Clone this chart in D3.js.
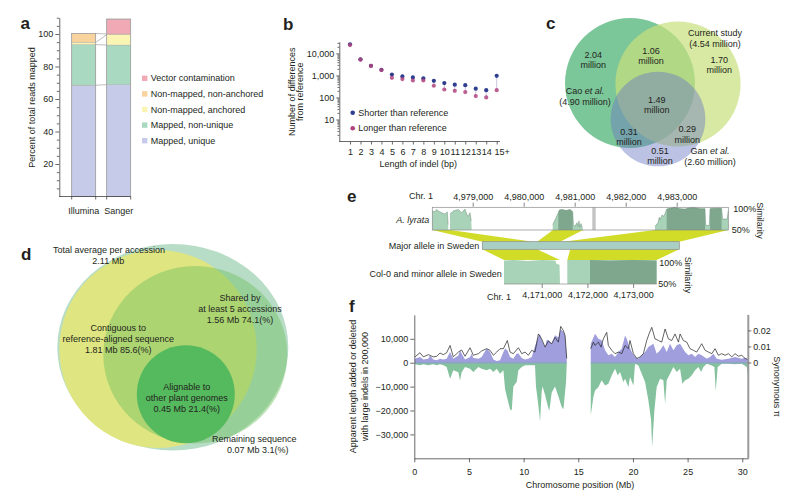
<!DOCTYPE html>
<html><head><meta charset="utf-8">
<script src="https://cdn.jsdelivr.net/npm/d3@7"></script>
<style>
body{margin:0;background:#fff;}
svg{display:block;font-family:"Liberation Sans",Arial,Helvetica,sans-serif;}
text{fill:#231f20;}
</style></head><body>
<svg id="chart" width="800" height="499"></svg>
<script>
// ================= DATA =================
// Panel a
const aCategories = ["Illumina", "Sanger"];
const aSeriesNames = ["Mapped, unique", "Mapped, non-unique", "Non-mapped, anchored", "Non-mapped, non-anchored", "Vector contamination"];
const aIllumina = [68.5, 25.0, 1.3, 5.5, 0];
const aSanger = [68.8, 24.4, 6.4, 0.4, 9.2];
const aYTicks = [20, 40, 60, 80, 100];
const aColors = ["#c7cbea", "#a9d9c0", "#fbf5b4", "#f8d39d", "#f1a9b6"];

// Panel b
const bLengths = ["1","2","3","4","5","6","7","8","9","10","11","12","13","14","15+"];
const bShorter = [26000, 5400, 2750, 1800, 1100, 900, 810, 730, 570, 450, 380, 360, 250, 215, 960];
const bLonger  = [24000, 5200, 2700, 1750, 780, 680, 590, 590, 340, 230, 200, 175, 115, 100, 215];
const bYTicks = [10, 100, 1000, 10000];
const bSeriesNames = ["Shorter than reference", "Longer than reference"];

// Panel c
const cSetNames = ["Cao", "Current study", "Gan"];
const cSetTotals = [4.90, 4.54, 2.60];
const cRegionValues = [2.04, 1.06, 1.70, 1.49, 0.31, 0.29, 0.51]; // Cao only, Cao∩Cur, Cur only, all, Cao∩Gan, Cur∩Gan, Gan only

// Panel d
const dNames = ["Total average per accession", "Contiguous to reference-aligned sequence", "Shared by at least 5 accessions", "Alignable to other plant genomes", "Remaining sequence"];
const dMb = [2.11, 1.81, 1.56, 0.45, 0.07];
const dPct = [100, 85.6, 74.1, 21.4, 3.1];

// Panel e
const eTopTicks = [4979000, 4980000, 4981000, 4982000, 4983000];
const eBottomTicks = [4171000, 4172000, 4173000];
const eLyrataProfile = [
  [[4978208,50],[4978208,92],[4978250,90],[4978294,95],[4978340,91],[4978392,88],[4978457,85],[4978502,90],[4978518,62],[4978525,50]],
  [[4978555,50],[4978555,85],[4978620,92],[4978718,95],[4978784,88],[4978849,96],[4978882,85],[4978914,80],[4978947,88],[4978972,70],[4978980,50]],
  [[4980569,50],[4980569,62],[4980614,72],[4980679,88],[4980700,94],[4980752,95],[4980830,93],[4980909,95],[4980961,90],[4980975,62],[4981006,58],[4981045,66],[4981060,58],[4981085,70],[4981100,56],[4981124,64],[4981150,55],[4981169,50]],
  [[4982575,50],[4982575,58],[4982634,66],[4982660,78],[4982673,72],[4982712,83],[4982751,80],[4982804,96],[4982966,100],[4983060,97],[4983162,96],[4983260,99],[4983358,99],[4983456,97],[4983554,97],[4983570,60],[4983640,60],[4983655,97],[4983760,98],[4983880,98],[4983900,74],[4983990,74],[4984012,92],[4984012,50]]
];
const eLyrataDark = [[4980679, 4980961], [4982804, 4983556], [4983655, 4983880]];
const eLyrataGap = [4981345, 4981412];
const eCol0Profile = [
  [[4170175,50],[4170175,99],[4170400,100],[4170700,98],[4171000,100],[4171300,99],[4171320,92],[4171390,90],[4171400,50]],
  [[4171560,50],[4171560,100],[4172057,100],[4172500,99],[4173000,100],[4173516,99],[4173516,50]]
];
const eCol0Dark = [[4172057, 4173516]];
const eMajorLengthKb = 4.1;
const eBandsUpper = [ // lyrata start, lyrata end, major start (kb), major end (kb)
  [4978208, 4978560, 0, 1.06],
  [4980575, 4981165, 1.14, 1.62],
  [4982575, 4984012, 1.68, 4.1]
];
const eBandsLower = [ // major start (kb), major end (kb), Col-0 start, Col-0 end
  [0, 1.14, 4170175, 4171400],
  [1.83, 4.1, 4171560, 4173516]
];

// Panel f  ([Mb, value])
const fXTicks = [0, 5, 10, 15, 20, 25, 30];
const fYTicks = [-30000, -20000, -10000, 0, 10000];
const fPiTicks = [0, 0.01, 0.02];
const fAddedLeft = [[0.06,1700],[0.52,2400],[0.83,1300],[1.28,1700],[1.44,3000],[1.74,1300],[2.05,1000],[2.35,1700],[2.66,1300],[2.96,1700],[3.27,4500],[3.57,1700],[4.03,3000],[4.18,5200],[4.33,3800],[4.64,1300],[5.10,2400],[5.25,3800],[5.40,2000],[5.86,1700],[6.16,2400],[6.62,5900],[6.93,4500],[7.23,1300],[7.54,700],[7.84,1000],[8.15,4500],[8.30,5900],[8.51,5200],[8.76,2400],[9.06,1700],[9.37,3800],[9.52,3800],[9.83,2000],[10.13,1300],[10.43,1700],[10.74,2400],[11.04,7000],[11.35,11000],[11.50,12000],[11.65,9500],[11.96,6500],[12.11,9500],[12.26,9500],[12.57,8000],[12.87,11500],[13.18,10500],[13.39,14000],[13.64,13000],[13.79,11500],[13.94,2500]];
const fDeletedLeft = [[0.06,-700],[0.52,-1100],[0.83,-700],[1.28,-1100],[1.74,-700],[2.05,-1100],[2.35,-700],[2.66,-1100],[2.96,-1800],[3.27,-6700],[3.57,-3200],[4.03,-4000],[4.18,-7400],[4.33,-4000],[4.64,-1800],[5.10,-2500],[5.40,-3900],[5.86,-1800],[6.16,-2500],[6.62,-3200],[6.93,-2500],[7.23,-3900],[7.54,-2500],[7.84,-4600],[8.15,-3200],[8.30,-11000],[8.51,-15000],[8.76,-19500],[8.91,-20000],[9.06,-10000],[9.37,-8000],[9.52,-3200],[9.83,-1800],[10.13,-1100],[10.43,-1100],[10.74,-1100],[11.04,-1100],[11.13,-10000],[11.35,-18000],[11.50,-24500],[11.65,-12000],[11.74,-10000],[11.96,-13500],[12.26,-19000],[12.35,-20000],[12.57,-12500],[12.87,-10000],[13.18,-14000],[13.48,-18500],[13.64,-19500],[13.88,-8000],[13.94,-1000]];
const fPiLeft = [[0.06,.0035],[0.52,.0061],[0.83,.0035],[1.28,.0049],[1.74,.0035],[2.05,.0039],[2.35,.0059],[2.66,.0049],[2.96,.0061],[3.27,.0106],[3.57,.0035],[4.03,.0065],[4.33,.0078],[4.64,.0039],[5.10,.0092],[5.40,.0045],[5.86,.0055],[6.16,.0072],[6.62,.0086],[6.93,.0076],[7.23,.0045],[7.54,.0065],[7.84,.0086],[8.15,.0086],[8.51,.0137],[8.76,.0065],[9.06,.0055],[9.52,.0092],[9.83,.0055],[10.13,.0065],[10.43,.0045],[10.74,.0076],[11.04,.0065],[11.35,.0178],[11.65,.0147],[11.96,.0096],[12.26,.0133],[12.57,.0117],[12.87,.0157],[13.18,.0127],[13.39,.0225],[13.64,.0198],[13.79,.0168],[13.94,.0025]];
const fAddedRight = [[16.14,7950],[16.53,12100],[16.84,10000],[17.14,9350],[17.45,5160],[17.75,3070],[18.06,3770],[18.36,2370],[18.67,4460],[18.97,5860],[19.28,11400],[19.43,10000],[19.58,7950],[19.89,4460],[20.19,2370],[20.50,1670],[20.80,3070],[21.11,4460],[21.41,6560],[21.87,7950],[22.17,3770],[22.48,5160],[22.78,7250],[23.09,4460],[23.39,7950],[23.70,5160],[24.00,7250],[24.31,7950],[24.77,4460],[25.07,3070],[25.38,3770],[25.68,2370],[25.99,3770],[26.29,3070],[26.75,1670],[27.05,2370],[27.36,3770],[27.66,1670],[28.12,1260],[28.73,1670],[29.34,2370],[29.95,1670],[30.26,2100],[30.56,980]];
const fDeletedRight = [[16.14,-22000],[16.38,-14370],[16.53,-11580],[16.84,-10180],[17.14,-7390],[17.45,-9490],[17.75,-8790],[18.06,-5300],[18.36,-2510],[18.61,-5300],[18.82,-3900],[19.12,-8090],[19.28,-6700],[19.58,-10180],[19.73,-6000],[20.04,-9490],[20.19,-420],[20.50,-1120],[20.80,-4600],[21.11,-8090],[21.41,-15760],[21.66,-24130],[21.75,-35500],[21.96,-19950],[22.17,-10180],[22.48,-6700],[22.78,-7390],[22.94,-17160],[23.09,-7390],[23.39,-4600],[23.70,-1810],[24.00,-3900],[24.31,-2510],[24.52,-8790],[24.77,-7390],[25.07,-6700],[25.38,-5300],[25.68,-3210],[25.99,-1810],[26.23,-3900],[26.44,-1810],[26.75,-420],[27.21,-1120],[27.45,-1810],[27.57,-11900],[27.75,-1810],[28.12,-420],[28.73,-420],[29.34,-700],[29.95,-420],[30.41,-1810],[30.56,-6700]];
const fPiRight = [[16.14,.0086],[16.38,.0127],[16.53,.0106],[16.84,.0127],[17.08,.0096],[17.29,.0147],[17.60,.0188],[17.75,.0106],[18.06,.0076],[18.36,.0055],[18.67,.0065],[18.97,.0055],[19.28,.0106],[19.58,.0086],[19.73,.0137],[20.04,.0055],[20.35,.0025],[20.65,.0035],[20.95,.0055],[21.26,.0137],[21.47,.0178],[21.72,.0219],[22.02,.0147],[22.33,.0137],[22.63,.0127],[22.94,.0209],[23.24,.0147],[23.55,.0137],[23.85,.0178],[24.16,.0127],[24.31,.0178],[24.61,.0137],[24.92,.0127],[25.22,.0086],[25.53,.0076],[25.83,.0065],[26.29,.0117],[26.60,.0076],[26.90,.0065],[27.21,.0055],[27.51,.0086],[27.81,.0045],[28.12,.0055],[28.43,.0045],[28.73,.0055],[29.04,.0035],[29.34,.0055],[29.65,.0039],[29.95,.0045],[30.26,.0025],[30.56,.0018]];

// ================= DRAWING =================
const svg = d3.select("#chart");
svg.append("rect").attr("width", 800).attr("height", 499).attr("fill", "#fff");
const INK = "#231f20";

function text(g, x, y, s, anchor = "middle", size = 9) {
  return g.append("text").attr("x", x).attr("y", y).attr("dy", "0.35em")
    .attr("text-anchor", anchor).attr("font-size", size).text(s);
}
function rotText(g, x, y, s, angle, size = 9) {
  return g.append("text").attr("transform", `translate(${x},${y}) rotate(${angle})`)
    .attr("dy", "0.35em").attr("text-anchor", "middle").attr("font-size", size).text(s);
}
function styleAxis(g, col = "#444") {
  g.attr("font-family", null).attr("font-size", 9);
  g.selectAll("text").attr("fill", INK);
  g.selectAll("line,path").attr("stroke", col).attr("stroke-width", 0.8);
}
function panelLabel(x, y, s) {
  svg.append("text").attr("x", x).attr("y", y).attr("font-size", 17).attr("font-weight", "bold").text(s);
}
panelLabel(20.5, 28.5, "a");
panelLabel(283, 29.5, "b");
panelLabel(546, 28.5, "c");
panelLabel(21, 259.5, "d");
panelLabel(347, 201.5, "e");
panelLabel(349, 311.5, "f");

// ---------- Panel a ----------
{
  const g = svg.append("g");
  const ay = d3.scaleLinear().domain([0, 110]).range([196.5, 17.75]);
  const ax = d3.scaleBand().domain(aCategories).range([71.7, 130.7]).paddingInner(0.314);
  const table = aCategories.map((c, i) => {
    const vals = [aIllumina, aSanger][i]; const r = { cat: c };
    aSeriesNames.forEach((s, j) => r[s] = vals[j]); return r;
  });
  const stacked = d3.stack().keys(aSeriesNames)(table);
  stacked.forEach((layer, k) => layer.forEach(d => {
    if (d[1] - d[0] <= 0) return;
    g.append("rect").attr("x", ax(d.data.cat)).attr("width", ax.bandwidth())
      .attr("y", ay(d[1])).attr("height", ay(d[0]) - ay(d[1]))
      .attr("fill", aColors[k]).attr("stroke", "#ababab").attr("stroke-width", 0.4);
  }));
  table.forEach(r => {
    const tot = d3.sum(aSeriesNames, s => r[s]);
    g.append("rect").attr("x", ax(r.cat)).attr("width", ax.bandwidth()).attr("y", ay(tot))
      .attr("height", ay(0) - ay(tot)).attr("fill", "none").attr("stroke", "#9b9b9b").attr("stroke-width", 0.7);
  });
  stacked.forEach(layer => {
    if (layer[0][1] - layer[0][0] <= 0 || layer[1][1] - layer[1][0] <= 0) return;
    g.append("line").attr("x1", ax(aCategories[0]) + ax.bandwidth()).attr("x2", ax(aCategories[1]))
      .attr("y1", ay(layer[0][1])).attr("y2", ay(layer[1][1])).attr("stroke", "#a0a0a0").attr("stroke-width", 0.7);
  });
  const yAx = g.append("g").attr("transform", "translate(59.3,0)")
    .call(d3.axisLeft(ay).tickValues(aYTicks).tickSize(4).tickSizeOuter(0).tickPadding(2));
  styleAxis(yAx);
  const yMinor = g.append("g").attr("transform", "translate(59.3,0)")
    .call(d3.axisLeft(ay).tickValues(d3.range(5, 111, 5).filter(v => !aYTicks.includes(v))).tickSize(2.5).tickFormat(""));
  yMinor.select(".domain").remove(); styleAxis(yMinor);
  g.append("line").attr("x1", 59.3).attr("x2", ax(aCategories[1]) + ax.bandwidth()).attr("y1", ay(0)).attr("y2", ay(0)).attr("stroke", "#444").attr("stroke-width", 0.8);
  aCategories.forEach(c => {
    [ax(c), ax(c) + ax.bandwidth()].forEach(x => g.append("line").attr("x1", x).attr("x2", x).attr("y1", ay(0)).attr("y2", ay(0) + 3).attr("stroke", "#444").attr("stroke-width", 0.8));
    text(g, ax(c) + ax.bandwidth() / 2, 211, c);
  });
  rotText(g, 31.7, 107.5, "Percent of total reads mapped", -90);
  aSeriesNames.slice().reverse().forEach((s, i) => {
    const k = aSeriesNames.length - 1 - i, y = 78.3 + i * 15.6;
    g.append("rect").attr("x", 142).attr("y", y - 2.7).attr("width", 5.4).attr("height", 5.4).attr("fill", aColors[k]);
    text(g, 150.7, y, s, "start");
  });
}

// ---------- Panel b ----------
{
  const g = svg.append("g");
  const bx = d3.scalePoint().domain(bLengths).range([350, 496.7]);
  const by = d3.scaleLog().domain([1, 34000]).range([141.5, 41.7]);
  const yAx = g.append("g").attr("transform", "translate(339.3,0)")
    .call(d3.axisLeft(by).tickValues(bYTicks).tickFormat(d3.format(",")).tickSize(3).tickSizeOuter(0).tickPadding(2));
  styleAxis(yAx);
  const minor = [];
  [1, 10, 100, 1000, 10000].forEach(p => d3.range(2, 10).forEach(m => { if (p * m < 34000) minor.push(p * m); }));
  const yMin = g.append("g").attr("transform", "translate(339.3,0)")
    .call(d3.axisLeft(by).tickValues(minor).tickSize(1.8).tickFormat(""));
  yMin.select(".domain").remove(); styleAxis(yMin);
  const xAx = g.append("g").attr("transform", "translate(0,141.5)")
    .call(d3.axisBottom(bx).tickSize(3).tickPadding(4));
  xAx.select(".domain").remove(); styleAxis(xAx);
  xAx.selectAll(".tick text").filter(d => d === "15+").attr("dx", 5);
  g.append("line").attr("x1", 339.3).attr("x2", 500).attr("y1", 141.5).attr("y2", 141.5).attr("stroke", "#444").attr("stroke-width", 0.8);
  bLengths.forEach((l, i) => {
    g.append("line").attr("x1", bx(l)).attr("x2", bx(l)).attr("y1", by(bShorter[i])).attr("y2", by(bLonger[i]))
      .attr("stroke", "#9a8fb8").attr("stroke-width", 0.5);
  });
  g.selectAll(".ps").data(bLengths).enter().append("circle").attr("cx", d => bx(d)).attr("cy", (d, i) => by(bShorter[i])).attr("r", 2.1).attr("fill", "#2f3e8f");
  g.selectAll(".pl").data(bLengths).enter().append("circle").attr("cx", d => bx(d)).attr("cy", (d, i) => by(bLonger[i])).attr("r", 2.1).attr("fill", "#b1447f").attr("fill-opacity", 0.85);
  rotText(g, 291.7, 91.7, "Number of differences", -90);
  rotText(g, 300, 91.7, "from reference", -90);
  text(g, 418.3, 164, "Length of indel (bp)");
  [["#2f3e8f", 112.7], ["#b1447f", 128.3]].forEach((c, i) => {
    g.append("circle").attr("cx", 352.7).attr("cy", c[1]).attr("r", 2.3).attr("fill", c[0]);
    text(g, 358.3, c[1], bSeriesNames[i], "start");
  });
}

// ---------- Panel c ----------
{
  const g = svg.append("g");
  const rScale = d3.scaleSqrt().domain([0, 4.90]).range([0, 65]);
  const centers = [[630, 83], [678, 84], [658, 119]];
  const fills = [["#7cc79a", 1], ["#c8e07c", 0.7], ["#6a78c0", 0.45]];
  cSetTotals.forEach((t, i) => g.append("circle").attr("cx", centers[i][0]).attr("cy", centers[i][1])
    .attr("r", rScale(t)).attr("fill", fills[i][0]).attr("fill-opacity", fills[i][1]));
  const regPos = [[593.3, 55], [651, 50.7], [719.3, 60], [656.7, 100], [629, 131.7], [687.3, 129.3], [660, 150.7]];
  cRegionValues.forEach((v, i) => {
    text(g, regPos[i][0], regPos[i][1], v.toFixed(2));
    text(g, regPos[i][0], regPos[i][1] + 10.3, "million");
  });
  const lab = (x, y, name, total, ital) => {
    const t = text(g, x, y, "");
    if (ital) { t.append("tspan").text(name + " "); t.append("tspan").attr("font-style", "italic").text("et al."); }
    else t.text(name);
    text(g, x, y + 11, "(" + total.toFixed(2) + " million)");
  };
  lab(585, 90.7, cSetNames[0], cSetTotals[0], true);
  lab(715, 33.3, cSetNames[1], cSetTotals[1], false);
  lab(710, 150.7, cSetNames[2], cSetTotals[2], true);
}

// ---------- Panel d ----------
{
  const g = svg.append("g");
  g.append("ellipse").attr("cx", 172.8).attr("cy", 347.3).attr("rx", 115.5).attr("ry", 103.3).attr("fill", "#b8ddc6");
  g.append("ellipse").attr("cx", 158).attr("cy", 349).attr("rx", 98.7).attr("ry", 99).attr("fill", "#dfe580");
  g.append("ellipse").attr("cx", 195.3).attr("cy", 354.7).attr("rx", 92).attr("ry", 88.7).attr("fill", "#6fbf5f").attr("fill-opacity", 0.45);
  g.append("circle").attr("cx", 185.8).attr("cy", 394.2).attr("r", 49).attr("fill", "#55b95e");
  const fmt = i => dMb[i].toFixed(2) + " Mb " + dPct[i] + "(%)";
  text(g, 109, 250, dNames[0]);
  text(g, 108.3, 260.7, dMb[0].toFixed(2) + " Mb");
  text(g, 118.3, 327.7, "Contiguous to");
  text(g, 118.3, 338.7, "reference-aligned sequence");
  text(g, 118.3, 349.7, fmt(1));
  text(g, 240, 298.3, "Shared by");
  text(g, 240, 309, "at least 5 accessions");
  text(g, 240, 319.7, fmt(2));
  text(g, 186.7, 386.7, "Alignable to");
  text(g, 186.7, 397.7, "other plant genomes");
  text(g, 186.7, 408.7, fmt(3));
  text(g, 254.3, 439.3, dNames[4]);
  text(g, 257.7, 450, fmt(4));
}

// ---------- Panel e ----------
{
  const g = svg.append("g");
  const tx = d3.scaleLinear().domain([4978208, 4984012]).range([432.3, 728.3]);
  const ty = d3.scaleLinear().domain([50, 100]).range([230, 207.3]);
  const mx = d3.scaleLinear().domain([0, eMajorLengthKb]).range([482.3, 679.3]);
  const bx = d3.scaleLinear().domain([4170175, 4173516]).range([504, 656.7]);
  const byy = d3.scaleLinear().domain([50, 100]).range([284, 260]);
  const light = "#a9d3b8", dark = "#7fa78e", band = "#d0dc28";

  // bands
  eBandsUpper.forEach(b => g.append("polygon").attr("fill", band)
    .attr("points", [[tx(b[0]), 230], [tx(b[1]), 230], [mx(b[3]), 241.7], [mx(b[2]), 241.7]].join(" ")));
  eBandsLower.forEach(b => g.append("polygon").attr("fill", band)
    .attr("points", [[mx(b[0]), 249.3], [mx(b[1]), 249.3], [bx(b[3]), 260], [bx(b[2]), 260]].join(" ")));

  // top box
  g.append("rect").attr("x", 432.3).attr("y", 207.3).attr("width", 296).attr("height", 22.7).attr("fill", "#fff");
  const tArea = d3.area().x(d => tx(d[0])).y0(ty(50)).y1(d => ty(d[1]));
  eLyrataProfile.forEach(seg => g.append("path").attr("d", tArea(seg)).attr("fill", light));
  eLyrataDark.forEach((iv, k) => {
    const id = "ld" + k;
    g.append("clipPath").attr("id", id).append("rect").attr("x", tx(iv[0])).attr("width", tx(iv[1]) - tx(iv[0])).attr("y", 200).attr("height", 40);
    eLyrataProfile.forEach(seg => g.append("path").attr("d", tArea(seg)).attr("fill", dark).attr("clip-path", `url(#${id})`));
  });
  eLyrataProfile.forEach(seg => g.append("path").attr("d", d3.line().x(d => tx(d[0])).y(d => ty(d[1]))(seg.filter(d => d[1] > 50)))
    .attr("fill", "none").attr("stroke", "#6c8c78").attr("stroke-width", 0.5));
  g.append("rect").attr("x", tx(eLyrataGap[0])).attr("width", tx(eLyrataGap[1]) - tx(eLyrataGap[0])).attr("y", 207.3).attr("height", 22.7).attr("fill", "#c4c4c4");
  g.append("rect").attr("x", 432.3).attr("y", 207.3).attr("width", 296).attr("height", 22.7).attr("fill", "none").attr("stroke", "#8a8a8a").attr("stroke-width", 0.7);
  const topAx = g.append("g").attr("transform", "translate(0,206.7)")
    .call(d3.axisTop(tx).tickValues(eTopTicks).tickFormat(d3.format(",")).tickSize(4).tickPadding(3));
  topAx.select(".domain").remove(); styleAxis(topAx, "#666");
  text(g, 421, 196, "Chr. 1");
  text(g, 733.3, 209.3, "100%", "start");
  text(g, 731.7, 230, "50%", "start");
  rotText(g, 760.5, 220.5, "Similarity", 90);
  text(g, 429.3, 220, "A. lyrata", "end").attr("font-style", "italic");

  // major allele
  g.append("rect").attr("x", mx(0)).attr("width", mx(eMajorLengthKb) - mx(0)).attr("y", 241.7).attr("height", 7.6)
    .attr("fill", "#a9cfc4").attr("stroke", "#8a8a8a").attr("stroke-width", 0.7);
  text(g, 479.3, 245.7, "Major allele in Sweden", "end");

  // Col-0 box
  g.append("rect").attr("x", 504).attr("y", 260).attr("width", 152.7).attr("height", 24).attr("fill", "#fff");
  const bArea = d3.area().x(d => bx(d[0])).y0(byy(50)).y1(d => byy(d[1]));
  eCol0Profile.forEach(seg => g.append("path").attr("d", bArea(seg)).attr("fill", light));
  eCol0Dark.forEach((iv, k) => {
    const id = "cd" + k;
    g.append("clipPath").attr("id", id).append("rect").attr("x", bx(iv[0])).attr("width", bx(iv[1]) - bx(iv[0])).attr("y", 255).attr("height", 35);
    eCol0Profile.forEach(seg => g.append("path").attr("d", bArea(seg)).attr("fill", dark).attr("clip-path", `url(#${id})`));
  });
  g.append("line").attr("x1", 504).attr("x2", 656.7).attr("y1", 284).attr("y2", 284).attr("stroke", "#8a8a8a").attr("stroke-width", 0.7);
  const botAx = g.append("g").attr("transform", "translate(0,284)")
    .call(d3.axisBottom(bx).tickValues(eBottomTicks).tickFormat(d3.format(",")).tickSize(4).tickPadding(4));
  botAx.select(".domain").remove(); styleAxis(botAx, "#666");
  text(g, 499, 296.7, "Chr. 1");
  text(g, 659.3, 263.3, "100%", "start");
  text(g, 658.3, 284, "50%", "start");
  rotText(g, 688.3, 275, "Similarity", 90);
  text(g, 501.7, 274, "Col-0 and minor allele in Sweden", "end");
}

// ---------- Panel f ----------
{
  const g = svg.append("g");
  const fx = d3.scaleLinear().domain([0, 30.55]).range([414.3, 748.3]);
  const fyL = d3.scaleLinear().domain([-40000, 20000]).range([458.3, 314.9]);
  const fyR = d3.scaleLinear().domain([0, 0.02]).range([362.5, 330.4]);
  const area = d3.area().x(d => fx(d[0])).y0(fyL(0)).y1(d => fyL(d[1]));
  const line = d3.line().x(d => fx(d[0])).y(d => fyR(d[1]));
  [fAddedLeft, fAddedRight].forEach(a => g.append("path").attr("d", area(a)).attr("fill", "#a09edd"));
  [fDeletedLeft, fDeletedRight].forEach(a => g.append("path").attr("d", area(a)).attr("fill", "#84c19d"));
  [fAddedLeft, fAddedRight].forEach(a => g.append("line").attr("x1", fx(a[0][0])).attr("x2", fx(a[a.length - 1][0]))
    .attr("y1", fyL(0)).attr("y2", fyL(0)).attr("stroke", "#8ea4c4").attr("stroke-width", 1.6));
  [fPiLeft, fPiRight].forEach(a => g.append("path").attr("d", line(a)).attr("fill", "none").attr("stroke", "#222").attr("stroke-width", 0.7));

  const yAx = g.append("g").attr("transform", "translate(414.3,0)")
    .call(d3.axisLeft(fyL).tickValues(fYTicks).tickFormat(d3.format(",")).tickSize(4).tickSizeOuter(0).tickPadding(2));
  styleAxis(yAx);
  const xAx = g.append("g").attr("transform", "translate(0,458.3)")
    .call(d3.axisBottom(fx).tickValues(fXTicks).tickSize(4).tickSizeOuter(0).tickPadding(6));
  styleAxis(xAx);
  g.append("line").attr("x1", 748.3).attr("x2", 748.3).attr("y1", 314.9).attr("y2", 458.3).attr("stroke", "#9a9a9a").attr("stroke-width", 2);
  const rAx = g.append("g").attr("transform", "translate(748.3,0)")
    .call(d3.axisRight(fyR).tickValues(fPiTicks).tickFormat(d => d === 0 ? "0" : d.toFixed(2)).tickSize(3).tickPadding(2));
  rAx.select(".domain").remove(); styleAxis(rAx);
  rotText(g, 353.3, 386.5, "Apparent length added or deleted", -90);
  rotText(g, 364.5, 386.5, "with large indels in 200,000", -90);
  text(g, 580, 485, "Chromosome position (Mb)");
  rotText(g, 776.7, 386.7, "Synonymous π", 90);
}
</script></body></html>
